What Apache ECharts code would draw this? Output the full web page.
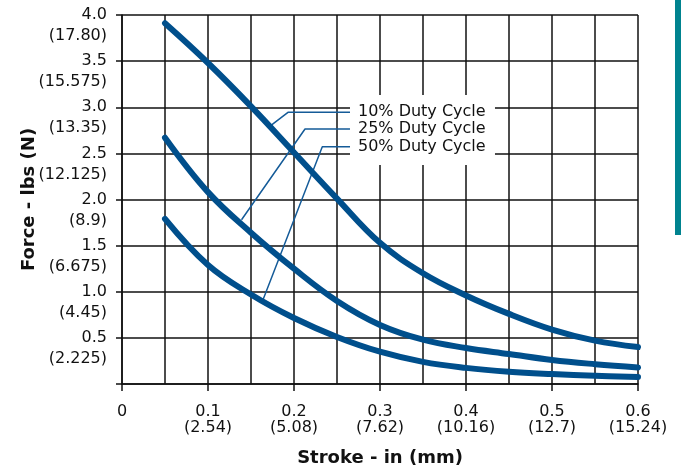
<!DOCTYPE html>
<html>
<head>
<meta charset="utf-8">
<script src="https://cdn.jsdelivr.net/npm/echarts@6/dist/echarts.min.js"></script>
<style>html,body{margin:0;padding:0;background:#fff}#c{width:681px;height:471px}</style>
</head>
<body>
<div id="c"></div>
<script>
// Stroke (in)
const strokeIn = [0.05, 0.1, 0.15, 0.2, 0.25, 0.3, 0.35, 0.4, 0.45, 0.5, 0.55, 0.6];
// Force (lbs)
const duty10 = [3.91, 3.48, 3.01, 2.51, 2.01, 1.53, 1.2, 0.96, 0.76, 0.59, 0.47, 0.40];
const duty25 = [2.67, 2.08, 1.64, 1.25, 0.9, 0.64, 0.48, 0.39, 0.325, 0.26, 0.215, 0.18];
const duty50 = [1.79, 1.29, 0.97, 0.715, 0.51, 0.35, 0.24, 0.175, 0.133, 0.108, 0.09, 0.076];
const seriesNames = ['10% Duty Cycle', '25% Duty Cycle', '50% Duty Cycle'];
// Tick labels
const xTickIn = ['0', '0.1', '0.2', '0.3', '0.4', '0.5', '0.6'];
const xTickMm = ['', '(2.54)', '(5.08)', '(7.62)', '(10.16)', '(12.7)', '(15.24)'];
const yTickLbs = ['', '0.5', '1.0', '1.5', '2.0', '2.5', '3.0', '3.5', '4.0'];
const yTickN = ['', '(2.225)', '(4.45)', '(6.675)', '(8.9)', '(12.125)', '(13.35)', '(15.575)', '(17.80)'];
// Leader lines from the curve to the label (data coordinates)
const leader10 = [[0.174, 2.808], [0.193, 2.945], [0.2651, 2.945]];
const leader25 = [[0.139, 1.781], [0.2128, 2.764], [0.2651, 2.764]];
const leader50 = [[0.1643, 0.921], [0.2329, 2.572], [0.2651, 2.572]];
const labelBox = [[0.2651, 3.133], [0.4337, 2.374]];

const FONT = 'DejaVu Sans';
const curveColor = '#004f8c';
const leaderColor = '#155b98';

function pairs(xs, ys) { return xs.map((x, i) => [x, ys[i]]); }
function leaderSeries(pts, name, withBox) {
  const s = {
    type: 'line', data: pts, showSymbol: false, symbol: 'none', z: 2, silent: true,
    lineStyle: { color: leaderColor, width: 1.5 }, animation: false,
    endLabel: { show: true, distance: 8, formatter: name,
      fontFamily: FONT, fontSize: 16, color: '#111' }
  };
  if (withBox) {
    s.markArea = { silent: true, itemStyle: { color: '#ffffff', opacity: 1 },
      data: [[{ coord: labelBox[0] }, { coord: labelBox[1] }]] };
  }
  return s;
}
function curve(ys) {
  return {
    type: 'line', data: pairs(strokeIn, ys), smooth: 0.4,
    showSymbol: false, symbol: 'none', z: 3,
    lineStyle: { color: curveColor, width: 6, cap: 'round', join: 'round' }, animation: false
  };
}

const chart = echarts.init(document.getElementById('c'), null, { renderer: 'canvas' });
chart.setOption({
  animation: false,
  backgroundColor: '#fff',
  grid: { left: 122, right: 43, top: 15, bottom: 87, containLabel: false, outerBoundsMode: 'none' },
  xAxis: [{
    type: 'value', min: 0, max: 0.6, interval: 0.1,
    name: 'Stroke - in (mm)', nameLocation: 'middle', nameGap: 65, nameMoveOverlap: false,
    nameTextStyle: { fontFamily: FONT, fontSize: 18, fontWeight: 'bold', color: '#111' },
    axisLine: { show: true, onZero: false, lineStyle: { color: '#111', width: 1.5 } },
    axisTick: { show: true, length: 7, lineStyle: { color: '#111', width: 1.5 } },
    splitLine: { show: false },
    axisLabel: {
      margin: 20, fontFamily: FONT, fontSize: 16, lineHeight: 16, color: '#111',
      showMinLabel: true, showMaxLabel: true, hideOverlap: false,
      formatter: function (v) {
        const i = Math.round(v * 10);
        return xTickMm[i] ? xTickIn[i] + '\n' + xTickMm[i] : xTickIn[i];
      }
    }
  }, {
    type: 'value', min: 0, max: 0.6, interval: 0.05, position: 'bottom',
    axisLine: { show: false }, axisTick: { show: false }, axisLabel: { show: false },
    splitLine: { show: true, lineStyle: { color: '#111', width: 1.5 } }
  }],
  yAxis: [{
    type: 'value', min: 0, max: 4, interval: 0.5, position: 'left',
    name: 'Force - lbs (N)', nameLocation: 'middle', nameGap: 84, nameMoveOverlap: false,
    nameTextStyle: { fontFamily: FONT, fontSize: 18, fontWeight: 'bold', color: '#111' },
    axisLine: { show: true, lineStyle: { color: '#111', width: 1.5 } },
    axisTick: { show: true, length: 6, lineStyle: { color: '#111', width: 1.5 } },
    splitLine: { show: true, lineStyle: { color: '#111', width: 1.5 } },
    axisLabel: {
      margin: 15, fontFamily: FONT, fontSize: 16, lineHeight: 20, color: '#111', align: 'right',
      showMinLabel: true, showMaxLabel: true, hideOverlap: false,
      formatter: function (v) { return yTickLbs[Math.round(v * 2)]; }
    }
  }, {
    type: 'value', min: 0, max: 4, interval: 0.5, position: 'left', offset: 0,
    axisLine: { show: false }, axisTick: { show: false }, splitLine: { show: false },
    axisLabel: {
      margin: 15, fontFamily: FONT, fontSize: 16, lineHeight: 20, color: '#111', align: 'right',
      verticalAlign: 'top', padding: [11, 0, 0, 0],
      showMinLabel: true, showMaxLabel: true, hideOverlap: false,
      formatter: function (v) { return yTickN[Math.round(v * 2)]; }
    }
  }],
  graphic: [{
    type: 'rect', right: 0, top: 0, shape: { width: 6, height: 235 },
    style: { fill: '#00838f' }, silent: true
  }],
  series: [
    leaderSeries(leader10, seriesNames[0], true),
    leaderSeries(leader25, seriesNames[1], false),
    leaderSeries(leader50, seriesNames[2], false),
    curve(duty10),
    curve(duty25),
    curve(duty50)
  ]
});
</script>
</body>
</html>
